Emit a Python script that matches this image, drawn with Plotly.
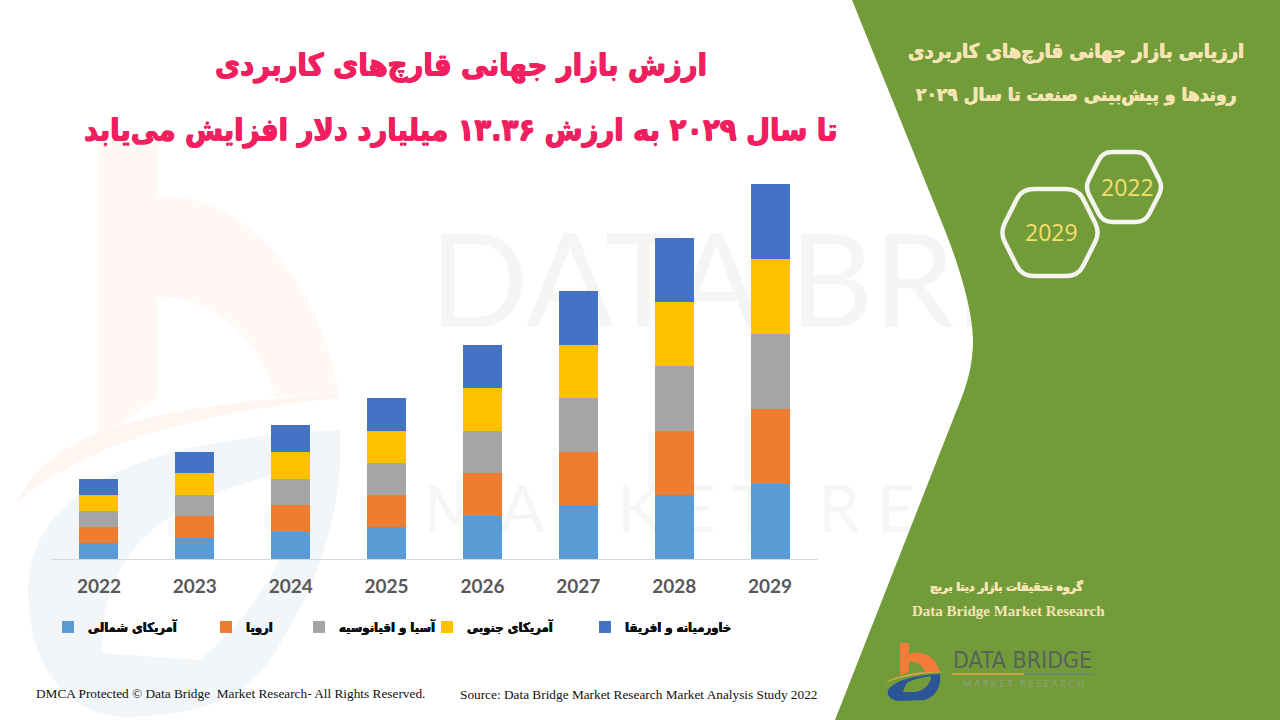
import re
import plotly.graph_objects as go

W, H = 1280, 720

years = ["2022", "2023", "2024", "2025", "2026", "2027", "2028", "2029"]
# billions of USD (2029 total = 13.36)
north_america = [0.57, 0.76, 0.96, 1.14, 1.53, 1.91, 2.28, 2.67]
europe = [0.57, 0.78, 0.96, 1.14, 1.53, 1.89, 2.28, 2.67]
asia_pacific = [0.57, 0.75, 0.93, 1.14, 1.50, 1.92, 2.31, 2.67]
south_america = [0.57, 0.78, 0.96, 1.14, 1.53, 1.89, 2.28, 2.67]
middle_east = [0.57, 0.75, 0.96, 1.18, 1.53, 1.92, 2.28, 2.68]

series_names = ["آمریکای شمالی", "اروپا", "آسیا و اقیانوسیه", "آمریکای جنوبی", "خاورمیانه و افریقا"]
series_values = [north_america, europe, asia_pacific, south_america, middle_east]
series_colors = ["#5B9BD5", "#ED7D31", "#A5A5A5", "#FFC000", "#4472C4"]
legend_left = [48, 206, 299, 427, 585]


def path(d):
    # path written in canvas pixels -> paper coordinates
    def conv(m):
        return f"{float(m.group(1)) / W:.5f},{1 - float(m.group(2)) / H:.5f}"
    return re.sub(r"(-?[\d.]+),(-?[\d.]+)", conv, d)


def hexagon(left, right, top, bottom, top_l, top_r, r=0.22):
    mid = (top + bottom) / 2
    pts = [(top_l, top), (top_r, top), (right, mid), (top_r, bottom), (top_l, bottom), (left, mid)]
    d = ""
    for i, p in enumerate(pts):
        a, b = pts[i - 1], pts[(i + 1) % 6]
        s = (p[0] + (a[0] - p[0]) * r, p[1] + (a[1] - p[1]) * r)
        e = (p[0] + (b[0] - p[0]) * r, p[1] + (b[1] - p[1]) * r)
        d += f"{'M' if i == 0 else 'L'}{s[0]},{s[1]} Q{p[0]},{p[1]} {e[0]},{e[1]} "
    return path(d + "Z")


def rect_label(x0, x1, y0, y1, text, size, color, family):
    return dict(type="rect", xref="paper", yref="paper", layer="below",
                x0=x0 / W, x1=x1 / W, y0=1 - y1 / H, y1=1 - y0 / H,
                line=dict(width=0), fillcolor="rgba(0,0,0,0)",
                label=dict(text=text, textposition="middle center",
                           font=dict(family=family, size=size, color=color)))


def shape(d, fill, layer="below"):
    return dict(type="path", xref="paper", yref="paper", layer=layer, path=path(d),
                fillcolor=fill, line=dict(width=0))


LOGO_B = "M900,643 L909,643 L909,654 C922,650 935,655 940,672 L925,672 C922,664 916,661 909,662 L909,672 L900,675 Z"
LOGO_ARC = "M885,683 C900,673 925,671 945,672 C925,673 905,675 885,683 Z"
LOGO_BLUE = ("M888,690 C895,680 915,675 940,674 C941,685 938,695 925,700 L900,701 C893,701 886,697 888,690 Z "
             "M908,682 C915,679 925,677 931,676 C931,683 925,691 915,692 L903,692 C904,688 906,684 908,682 Z")
BIG_B = "M98,140 L157,140 L157,197 C250,190 320,290 339,393 L275,397 C262,340 215,297 157,297 L157,397 L98,440 Z"
BIG_ARC = "M16,503 C50,440 110,410 339,393 L339,398 C200,413 90,440 16,503 Z"
BIG_BLUE = ("M28,590 C30,510 100,440 340,430 C345,520 310,600 270,660 C240,700 200,715 130,717 C70,717 28,670 28,590 Z "
            "M102,653 C100,570 140,500 300,470 C300,540 260,610 200,660 Z")

shapes = [
    # faint watermark behind the bars
    shape(BIG_B, "#FFF8F4"),
    shape(BIG_ARC, "#FFF6F1"),
    shape(BIG_BLUE, "#F3F6F9"),
    rect_label(425, 1265, 170, 380, "DATA BRIDGE", 130, "rgba(110,110,110,0.07)", "Lato"),
    rect_label(425, 1265, 465, 545, "M A R K E T   R E S E A R C H", 66, "rgba(110,110,110,0.06)", "Lato"),
    shape("M852,0 L942,223 C958,262 973,310 973,340 C973,372 963,395 954,417 L835,720 L1280,720 L1280,0 Z", "#729C3A"),
    dict(type="path", xref="paper", yref="paper", layer="above",
         path=hexagon(1085, 1163, 152, 222, 1103, 1145), fillcolor="rgba(0,0,0,0)",
         line=dict(color="#F3F5EE", width=4.5)),
    dict(type="path", xref="paper", yref="paper", layer="above",
         path=hexagon(1000, 1100, 189, 276, 1022, 1078), fillcolor="rgba(0,0,0,0)",
         line=dict(color="#F3F5EE", width=4.5)),
    # logo
    shape(LOGO_B, "#F47B3A", "above"),
    shape(LOGO_ARC, "#DFA648", "above"),
    shape(LOGO_BLUE, "#2C5597", "above"),
    shape("M952,673 L1024,673 L1024,675 L952,675 Z", "#C9A24A", "above"),
    shape("M1024,673 L1095,673 L1095,675 L1024,675 Z", "#6F8A66", "above"),
]


def heavy(color, w=0.6):
    # the reference's Persian face is much heavier than DejaVu Bold
    return f"{w}px 0 0 {color}, -{w}px 0 0 {color}, 0 {w}px 0 {color}"


def note(x, y, text, size, color, family="DejaVu Sans Condensed", bold=True, anchor="center", shadow="none"):
    return dict(x=x / W, y=1 - y / H, xref="paper", yref="paper", text=text, showarrow=False,
                xanchor=anchor, yanchor="middle",
                font=dict(family=family, size=size, color=color, weight=700 if bold else 400, shadow=shadow))


PINK = "#F01F5F"
CREAM = "#F7E4B4"
annotations = [
    note(461, 65, "ارزش بازار جهانی قارچ‌های کاربردی", 30.5, PINK, shadow=heavy(PINK)),
    note(460, 130, "تا سال ۲۰۲۹ به ارزش ۱۳.۳۶ میلیارد دلار افزایش می‌یابد", 30.5, PINK, shadow=heavy(PINK)),
    note(1076, 52, "ارزیابی بازار جهانی قارچ‌های کاربردی", 20, CREAM, shadow=heavy(CREAM, 0.3)),
    note(1076, 95, "روندها و پیش‌بینی صنعت تا سال ۲۰۲۹", 19, CREAM, shadow=heavy(CREAM, 0.3)),
    note(1127, 187, "2022", 23, "#F5DF6B", "Open Sans", False),
    note(1051, 232, "2029", 23, "#F5DF6B", "Open Sans", False),
    note(1006, 587, "گروه تحقیقات بازار دیتا بریج", 12, CREAM, shadow=heavy(CREAM, 0.3)),
    note(1008, 611, "Data Bridge Market Research", 15, CREAM, "Liberation Serif"),
    note(1022, 660, "DATA BRIDGE", 23, "#59625A", "DejaVu Sans Condensed", False),
    note(1023, 683, "M A R K E T   R E S E A R C H", 9.5, "#8FA07E", "Lato", False),
    note(34, 693, "DMCA Protected © Data Bridge  Market Research- All Rights Reserved.", 13.3, "#111111",
         "Liberation Serif", False, "left"),
    note(458, 694, "Source: Data Bridge Market Research Market Analysis Study 2022", 13.3, "#111111",
         "Liberation Serif", False, "left"),
]

fig = go.Figure()
legends = {}
for i, (name, vals, col) in enumerate(zip(series_names, series_values, series_colors)):
    key = "legend" if i == 0 else f"legend{i + 1}"
    fig.add_trace(go.Bar(x=years, y=vals, name=name, marker=dict(color=col, line=dict(width=0)), legend=key))
    legends[key] = dict(x=legend_left[i] / W, y=1 - 627 / H, xanchor="left", yanchor="middle",
                        bgcolor="rgba(0,0,0,0)", borderwidth=0,
                        font=dict(family="DejaVu Sans Condensed", size=13, color="#111111", weight=700,
                                  shadow=heavy("#111111", 0.25)))

fig.update_layout(
    width=W, height=H, margin=dict(l=0, r=0, t=0, b=0),
    paper_bgcolor="white", plot_bgcolor="rgba(0,0,0,0)",
    barmode="stack", bargap=0.593, showlegend=True,
    shapes=shapes, annotations=annotations,
    xaxis=dict(domain=[51 / W, 818 / W], type="category", showgrid=False, showline=True,
               linecolor="#D9D9D9", linewidth=1, ticks="", ticklabelstandoff=10,
               tickfont=dict(family="Lato", size=19, color="#595959", weight=700)),
    yaxis=dict(domain=[1 - 559 / H, 1 - 180 / H], range=[0, 13.5], visible=False),
    **legends,
)

# page margin would push the fixed-size figure 8px in
fig.write_html("out.html", config={"displayModeBar": False},
               post_script="document.body.style.margin='0';document.body.style.overflow='hidden';")
